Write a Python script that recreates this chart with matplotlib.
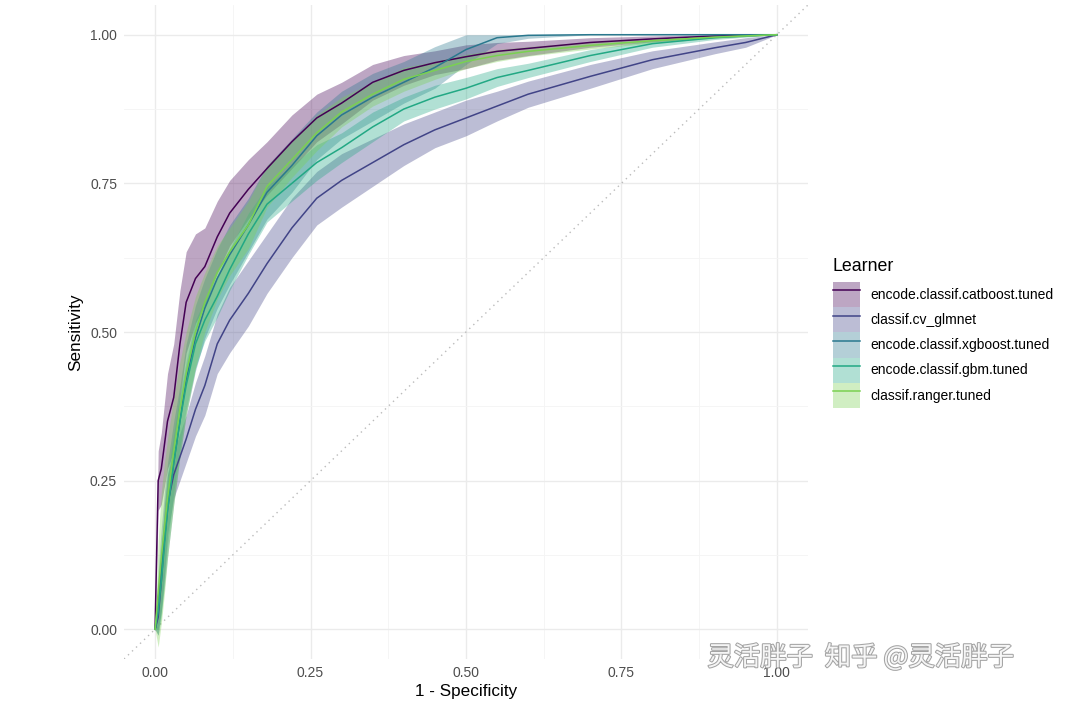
import numpy as np
import matplotlib.pyplot as plt
import matplotlib.patheffects as pe
from matplotlib.patches import Patch
from matplotlib.lines import Line2D

# false positive rate grid
fpr = [0, 0.005, 0.01, 0.015, 0.02, 0.03, 0.04, 0.05, 0.065, 0.08, 0.1, 0.12, 0.15, 0.18,
	0.22, 0.26, 0.3, 0.35, 0.4, 0.45, 0.5, 0.55, 0.6, 0.7, 0.8, 0.9, 0.95, 1.0]

learners = ["encode.classif.catboost.tuned", "classif.cv_glmnet", "encode.classif.xgboost.tuned",
	"encode.classif.gbm.tuned", "classif.ranger.tuned"]
colors = ["#440154", "#414487", "#2A788E", "#22A884", "#7AD151"]

# sensitivity per learner
tpr_catboost = [0, 0.25, 0.27, 0.31, 0.35, 0.39, 0.48, 0.55, 0.59, 0.61, 0.66, 0.70, 0.74, 0.775,
	0.82, 0.86, 0.885, 0.92, 0.94, 0.953, 0.963, 0.972, 0.977, 0.987, 0.993, 0.998, 0.999, 1.0]
tpr_glmnet = [0, 0.02, 0.08, 0.15, 0.21, 0.26, 0.29, 0.32, 0.37, 0.41, 0.48, 0.52, 0.565, 0.615,
	0.675, 0.725, 0.755, 0.785, 0.815, 0.84, 0.86, 0.88, 0.90, 0.93, 0.958, 0.978, 0.987, 1.0]
tpr_xgboost = [0, 0.05, 0.10, 0.15, 0.20, 0.28, 0.35, 0.42, 0.49, 0.54, 0.59, 0.63, 0.68, 0.735,
	0.78, 0.83, 0.865, 0.895, 0.92, 0.945, 0.975, 0.995, 0.999, 1.0, 1.0, 1.0, 1.0, 1.0]
tpr_gbm = [0, 0.03, 0.08, 0.14, 0.20, 0.28, 0.35, 0.41, 0.48, 0.52, 0.56, 0.605, 0.665, 0.715,
	0.75, 0.785, 0.81, 0.845, 0.875, 0.895, 0.91, 0.928, 0.94, 0.965, 0.985, 0.995, 0.998, 1.0]
tpr_ranger = [0, 0.06, 0.12, 0.17, 0.22, 0.30, 0.37, 0.43, 0.50, 0.55, 0.60, 0.635, 0.68, 0.745,
	0.79, 0.835, 0.87, 0.90, 0.925, 0.94, 0.955, 0.965, 0.972, 0.982, 0.99, 0.996, 0.998, 1.0]

# half width of the confidence band per learner
hw_catboost = [0, 0.05, 0.06, 0.07, 0.08, 0.09, 0.09, 0.085, 0.075, 0.065, 0.06, 0.055, 0.05, 0.045,
	0.045, 0.04, 0.035, 0.03, 0.025, 0.02, 0.02, 0.015, 0.012, 0.008, 0.005, 0.003, 0.002, 0]
hw_glmnet = [0, 0.03, 0.05, 0.06, 0.05, 0.04, 0.04, 0.04, 0.045, 0.05, 0.05, 0.055, 0.055, 0.05,
	0.05, 0.045, 0.045, 0.04, 0.035, 0.03, 0.03, 0.025, 0.022, 0.02, 0.015, 0.01, 0.008, 0]
hw_xgboost = [0, 0.05, 0.07, 0.08, 0.08, 0.07, 0.06, 0.06, 0.055, 0.05, 0.05, 0.05, 0.045, 0.045,
	0.045, 0.04, 0.04, 0.04, 0.035, 0.035, 0.025, 0.01, 0.005, 0, 0, 0, 0, 0]
hw_gbm = [0, 0.04, 0.06, 0.06, 0.06, 0.05, 0.045, 0.04, 0.04, 0.035, 0.035, 0.035, 0.035, 0.03,
	0.03, 0.03, 0.025, 0.025, 0.02, 0.02, 0.018, 0.015, 0.012, 0.01, 0.006, 0.003, 0.002, 0]
hw_ranger = [0, 0.09, 0.11, 0.11, 0.10, 0.09, 0.08, 0.07, 0.06, 0.05, 0.045, 0.04, 0.04, 0.035,
	0.03, 0.03, 0.025, 0.02, 0.02, 0.015, 0.012, 0.01, 0.008, 0.006, 0.004, 0.002, 0.001, 0]

tpr_all = [tpr_catboost, tpr_glmnet, tpr_xgboost, tpr_gbm, tpr_ranger]
hw_all = [hw_catboost, hw_glmnet, hw_xgboost, hw_gbm, hw_ranger]

ticks = [0, 0.25, 0.5, 0.75, 1.0]
tick_labels = ["0.00", "0.25", "0.50", "0.75", "1.00"]


def main():
	plt.rcParams['font.family'] = ['Liberation Sans', 'Noto Sans CJK SC', 'DejaVu Sans']

	fig = plt.figure(figsize=(10.8, 7.04), dpi=100)
	ax = fig.add_axes([0.1148, 0.0639, 0.6333, 0.929])

	x = np.array(fpr)
	# bands first, then lines on top
	for tpr, hw, c in zip(tpr_all, hw_all, colors):
		y = np.array(tpr)
		h = np.array(hw)
		ax.fill_between(x, y - h, np.minimum(y + h, 1.0), color=c, alpha=0.35, lw=0, zorder=2)
	for tpr, c in zip(tpr_all, colors):
		ax.plot(x, tpr, color=c, lw=1.1, zorder=3)

	# chance line
	ax.axline((0, 0), (1, 1), color='#BBBBBB', lw=1.0, ls=(0, (1, 3)), zorder=1)

	ax.set_xlim(-0.05, 1.05)
	ax.set_ylim(-0.05, 1.05)
	ax.set_xticks(ticks)
	ax.set_xticklabels(tick_labels)
	ax.set_yticks(ticks)
	ax.set_yticklabels(tick_labels)
	ax.set_xticks([0.125, 0.375, 0.625, 0.875], minor=True)
	ax.set_yticks([0.125, 0.375, 0.625, 0.875], minor=True)
	ax.grid(which='major', color='#EBEBEB', lw=1.0, zorder=0)
	ax.grid(which='minor', color='#F4F4F4', lw=0.6, zorder=0)
	ax.set_axisbelow(True)
	ax.tick_params(which='both', length=0, labelsize=10, labelcolor='#4D4D4D', pad=5)
	for s in ax.spines.values():
		s.set_visible(False)
	ax.set_xlabel("1 - Specificity", fontsize=12.3, labelpad=3)
	ax.set_ylabel("Sensitivity", fontsize=12.3, labelpad=5)

	handles = []
	for c in colors:
		handles.append((Patch(facecolor=c, alpha=0.35, lw=0), Line2D([], [], color=c, lw=1.1)))
	leg = fig.legend(handles, learners, loc='center left', bbox_to_anchor=(0.771, 0.527),
		frameon=False, fontsize=10, title="Learner", title_fontsize=12.8,
		handlelength=2.0, handleheight=2.42, labelspacing=0.0, handletextpad=0.75,
		borderaxespad=0, borderpad=0)
	leg._legend_box.align = 'left'
	leg._legend_box.sep = 5

	# watermark
	fig.text(0.655, 0.055, "灵活胖子  知乎 @灵活胖子", fontsize=19, color='white', alpha=0.9,
		family=['Noto Sans CJK SC', 'DejaVu Sans'],
		path_effects=[pe.withStroke(linewidth=1.5, foreground='#9A9A9A')])

	fig.savefig("out.png", dpi=100)


if __name__ == '__main__':
	main()
